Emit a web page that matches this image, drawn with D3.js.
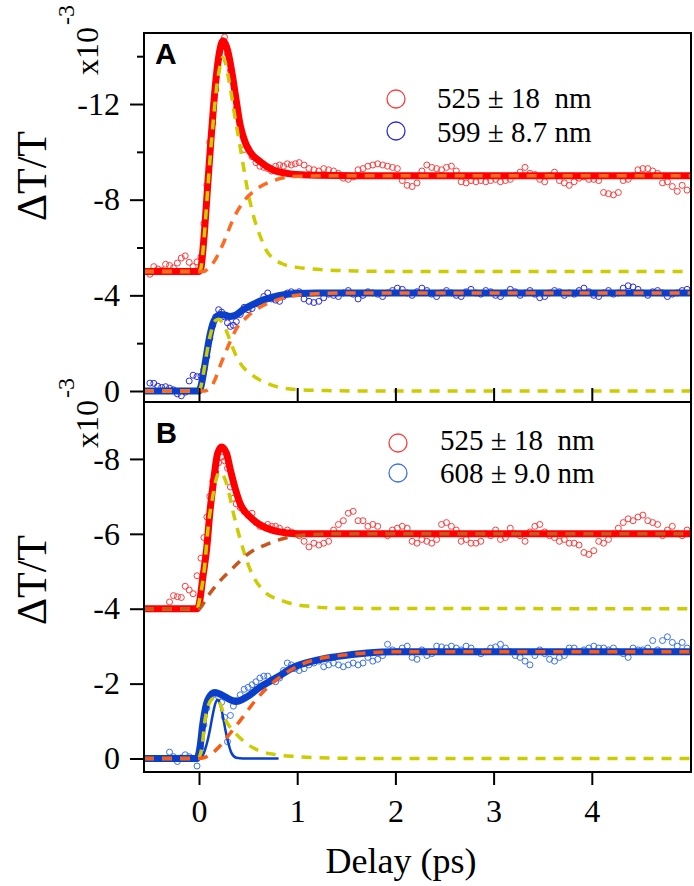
<!DOCTYPE html>
<html><head><meta charset="utf-8">
<script src="https://cdn.jsdelivr.net/npm/d3@7"></script>
<style>body{margin:0;background:#fff}</style></head><body>
<svg id="c" width="694" height="886"></svg>
<script>
// ---------- DATA (units of 1e-3) ----------
const timesA = [-0.50,-0.46,-0.42,-0.38,-0.34,-0.30,-0.26,-0.22,-0.18,-0.14,-0.10,-0.06,-0.02,
0.02,0.05,0.08,0.11,0.14,0.17,0.20,0.23,0.26,0.29,0.32,0.35,0.38,0.42,0.46,0.50,0.54,0.58,0.62,0.66,0.70,0.74,0.78,0.82,0.86,0.90,0.94,0.98,
1.02,1.07,1.12,1.17,1.22,1.27,1.32,1.37,1.42,1.47,1.52,1.57,1.62,1.67,1.72,1.77,1.82,1.87,1.92,1.97,
2.02,2.07,2.12,2.17,2.22,2.27,2.32,2.37,2.42,2.47,2.52,2.57,2.62,2.67,2.72,2.77,2.82,2.87,2.92,2.97,
3.02,3.07,3.12,3.17,3.22,3.27,3.32,3.37,3.42,3.47,3.52,3.57,3.62,3.67,3.72,3.77,3.82,3.87,3.92,3.97,
4.02,4.07,4.12,4.17,4.22,4.27,4.32,4.37,4.42,4.47,4.52,4.57,4.62,4.67,4.72,4.77,4.82,4.87,4.92,4.97];
const timesB = [-0.30,-0.26,-0.22,-0.18,-0.14,-0.10,-0.06,-0.02,
0.02,0.05,0.08,0.11,0.14,0.17,0.20,0.23,0.26,0.29,0.32,0.35,0.38,0.42,0.46,0.50,0.54,0.58,0.62,0.66,0.70,0.74,0.78,0.82,0.86,0.90,0.94,0.98,
1.02,1.07,1.12,1.17,1.22,1.27,1.32,1.37,1.42,1.47,1.52,1.57,1.62,1.67,1.72,1.77,1.82,1.87,1.92,1.97,
2.02,2.07,2.12,2.17,2.22,2.27,2.32,2.37,2.42,2.47,2.52,2.57,2.62,2.67,2.72,2.77,2.82,2.87,2.92,2.97,
3.02,3.07,3.12,3.17,3.22,3.27,3.32,3.37,3.42,3.47,3.52,3.57,3.62,3.67,3.72,3.77,3.82,3.87,3.92,3.97,
4.02,4.07,4.12,4.17,4.22,4.27,4.32,4.37,4.42,4.47,4.52,4.57,4.62,4.67,4.72,4.77,4.82,4.87,4.92,4.97];

const redA = [-4.88,-5.20,-5.10,-5.05,-5.30,-5.25,-5.15,-5.35,-5.56,-5.65,-5.38,-5.20,-5.40,
-5.6,-7.0,-8.6,-10.4,-11.2,-12.6,-13.9,-14.4,-14.8,-14.1,-13.4,-12.4,-11.8,-10.9,-10.1,-10.15,-9.8,-9.55,-9.4,-9.35,-9.3,-9.2,-9.4,-9.45,-9.4,-9.5,-9.45,-9.5,
-9.55,-9.45,-9.3,-9.25,-9.2,-9.3,-9.25,-9.2,-9.1,-8.9,-8.85,-8.95,-9.25,-9.3,-9.4,-9.45,-9.5,-9.45,-9.4,-9.35,
-9.3,-8.8,-8.6,-8.55,-8.7,-9.2,-9.45,-9.35,-9.3,-9.25,-9.35,-9.4,-9.2,-8.75,-8.7,-8.8,-8.75,-8.8,-8.75,-8.8,
-8.85,-8.75,-8.8,-8.85,-9.0,-9.15,-9.35,-9.1,-9.05,-8.85,-8.75,-9.0,-9.15,-8.8,-8.7,-8.6,-8.75,-8.9,-8.95,-8.85,
-8.85,-8.8,-8.3,-8.25,-8.2,-8.3,-8.8,-8.85,-9.0,-9.25,-9.3,-9.3,-9.2,-9.1,-8.7,-8.75,-8.55,-8.35,-8.6,-8.4];
const blueA = [-0.33,-0.32,-0.20,-0.15,-0.18,-0.12,-0.05,0.12,0.20,0.05,-0.42,-0.66,-0.60,
-0.62,-0.9,-1.45,-2.2,-2.75,-3.1,-3.4,-3.3,-3.1,-2.85,-2.7,-2.75,-2.9,-3.2,-3.5,-3.4,-3.45,-3.65,-3.75,-3.95,-4.1,-3.85,-3.8,-3.75,-3.95,-4.1,-4.15,-4.1,
-4.15,-3.85,-3.75,-3.7,-3.75,-3.9,-4.05,-4.0,-3.95,-4.1,-4.2,-4.05,-3.85,-4.0,-4.15,-4.1,-4.05,-3.95,-4.1,-4.2,
-4.3,-4.25,-4.1,-4.0,-4.15,-4.3,-4.2,-4.05,-3.95,-4.1,-4.2,-4.1,-4.0,-3.95,-4.15,-4.25,-4.1,-4.05,-4.2,-4.15,
-4.0,-3.95,-4.1,-4.25,-4.15,-4.0,-4.1,-4.2,-4.05,-3.9,-3.95,-4.1,-4.2,-4.15,-4.0,-4.1,-4.05,-4.2,-4.3,-4.15,
-4.0,-3.95,-4.1,-4.2,-4.05,-4.1,-4.3,-4.4,-4.35,-4.25,-4.1,-4.0,-4.15,-4.2,-4.1,-3.95,-4.05,-4.1,-4.2,-4.25];
const redB = [-4.18,-4.35,-4.32,-4.30,-4.60,-4.50,-4.40,-4.88,
-5.35,-5.9,-6.45,-7.0,-7.4,-7.65,-7.9,-8.05,-7.95,-7.75,-7.25,-6.95,-6.8,-6.7,-6.6,-6.5,-6.55,-6.3,-6.2,-6.2,-6.25,-6.2,-6.2,-6.15,-6.05,-6.1,-6.05,-6.0,
-5.95,-5.8,-5.65,-5.75,-5.7,-5.75,-5.8,-6.1,-6.25,-6.35,-6.55,-6.6,-6.35,-6.35,-6.2,-6.25,-6.2,-6.0,-5.95,-6.1,
-6.15,-6.2,-6.15,-5.8,-5.75,-5.85,-5.8,-5.75,-5.85,-6.25,-6.3,-6.2,-6.1,-5.8,-5.85,-5.75,-5.75,-5.8,-6.0,-5.95,
-6.1,-5.85,-5.9,-6.15,-6.0,-5.95,-5.8,-6.05,-6.2,-6.25,-6.05,-5.95,-5.9,-5.8,-5.85,-5.75,-5.75,-5.7,-5.5,-5.45,
-5.55,-5.8,-5.75,-5.85,-6.0,-6.15,-6.3,-6.4,-6.35,-6.45,-6.5,-6.35,-6.3,-6.25,-5.95,-6.1,-6.2,-6.0,-5.95,-6.1];
const blueB = [-0.17,-0.05,0.08,-0.02,-0.10,-0.05,0.00,0.20,
-0.3,-0.9,-1.35,-1.6,-1.7,-1.75,-1.65,-1.5,-1.1,-0.45,-1.15,-1.4,-1.55,-1.7,-1.85,-1.9,-1.97,-2.05,-2.15,-2.2,-2.2,-2.1,-2.05,-2.15,-2.35,-2.55,-2.5,-2.4,
-2.35,-2.4,-2.5,-2.55,-2.6,-2.45,-2.5,-2.55,-2.5,-2.45,-2.5,-2.55,-2.5,-2.55,-2.7,-2.6,-2.65,-2.75,-3.05,-2.9,
-2.85,-2.95,-3.0,-2.7,-2.65,-2.9,-2.75,-2.8,-3.0,-2.98,-2.95,-3.0,-2.95,-2.9,-3.0,-2.95,-2.85,-2.8,-2.85,-2.95,
-2.98,-3.05,-2.95,-2.85,-2.75,-2.7,-2.6,-2.5,-2.75,-2.9,-2.8,-2.65,-2.6,-2.7,-2.75,-2.95,-2.95,-2.85,-2.9,-2.95,
-3.0,-2.95,-2.95,-2.9,-2.95,-2.85,-2.8,-2.7,-2.95,-2.9,-2.9,-2.95,-3.15,-2.9,-3.15,-3.25,-3.1,-3.0,-3.1,-2.95];

// fit curves [t, value]
const fitRedA = [[-0.56,-5.0],[0.0,-5.0],[0.02,-5.15],[0.04,-5.9],[0.06,-6.9],[0.09,-8.7],[0.12,-10.4],[0.15,-12.0],[0.18,-13.3],[0.21,-14.2],[0.245,-14.65],[0.28,-14.4],[0.31,-13.9],[0.34,-13.2],[0.37,-12.4],[0.42,-11.1],[0.47,-10.4],[0.52,-10.0],[0.62,-9.6],[0.75,-9.25],[0.93,-9.08],[1.2,-9.02],[1.6,-9.0],[5.01,-9.0]];
const fitYelA = [[-0.56,-5.0],[0.0,-5.0],[0.02,-5.15],[0.04,-5.85],[0.06,-6.8],[0.09,-8.5],[0.12,-10.1],[0.15,-11.5],[0.18,-12.7],[0.21,-13.5],[0.24,-13.95],[0.27,-13.7],[0.30,-13.1],[0.33,-12.4],[0.36,-11.6],[0.39,-10.9],[0.44,-9.7],[0.49,-8.5],[0.57,-7.1],[0.63,-6.4],[0.69,-5.85],[0.77,-5.5],[0.86,-5.3],[1.0,-5.17],[1.1,-5.12],[1.3,-5.06],[1.6,-5.02],[2.0,-5.0],[5.01,-5.0]];
const fitOrgA = [[-0.56,-5.0],[0.05,-5.0],[0.10,-5.15],[0.16,-5.45],[0.25,-6.2],[0.35,-7.2],[0.45,-7.9],[0.59,-8.45],[0.76,-8.8],[0.96,-8.97],[1.3,-9.0],[5.01,-9.0]];
const fitBlueA = [[-0.56,0],[0.0,0],[0.02,-0.2],[0.05,-0.85],[0.08,-1.6],[0.11,-2.3],[0.14,-2.8],[0.18,-3.1],[0.22,-3.2],[0.26,-3.18],[0.31,-3.12],[0.36,-3.15],[0.45,-3.4],[0.55,-3.62],[0.65,-3.8],[0.75,-3.93],[0.85,-4.02],[1.0,-4.08],[1.2,-4.1],[5.01,-4.1]];
const fitYelA2 = [[-0.56,0],[0.0,0],[0.02,-0.2],[0.05,-0.85],[0.08,-1.6],[0.11,-2.25],[0.14,-2.7],[0.17,-2.95],[0.20,-3.0],[0.23,-2.9],[0.26,-2.7],[0.29,-2.4],[0.33,-1.95],[0.38,-1.45],[0.45,-1.0],[0.53,-0.7],[0.62,-0.46],[0.72,-0.28],[0.82,-0.15],[1.0,-0.06],[1.3,-0.02],[1.6,0],[5.01,0]];
const fitOrgA2 = [[-0.56,0],[0.05,0],[0.11,-0.1],[0.16,-0.45],[0.21,-1.0],[0.30,-1.9],[0.38,-2.6],[0.49,-3.1],[0.62,-3.5],[0.79,-3.8],[0.96,-3.98],[1.2,-4.07],[1.5,-4.1],[5.01,-4.1]];
const fitRedB = [[-0.56,-4.0],[-0.02,-4.0],[0.0,-4.1],[0.04,-4.85],[0.08,-5.65],[0.11,-6.55],[0.15,-7.45],[0.19,-8.15],[0.23,-8.32],[0.28,-8.15],[0.32,-7.7],[0.37,-7.2],[0.42,-6.8],[0.52,-6.45],[0.65,-6.2],[0.82,-6.05],[1.0,-6.0],[5.01,-6.0]];
const fitYelB = [[-0.56,-4.0],[-0.02,-4.0],[0.01,-4.3],[0.06,-5.2],[0.09,-6.1],[0.14,-7.0],[0.18,-7.5],[0.21,-7.65],[0.25,-7.55],[0.29,-7.25],[0.35,-6.55],[0.42,-5.85],[0.52,-5.05],[0.65,-4.5],[0.86,-4.2],[1.1,-4.07],[1.5,-4.01],[5.01,-4.0]];
const fitOrgB = [[-0.56,-4.0],[0.0,-4.0],[0.08,-4.3],[0.20,-4.7],[0.35,-5.1],[0.52,-5.5],[0.69,-5.72],[0.90,-5.9],[1.1,-5.97],[1.4,-6.0],[5.01,-6.0]];
const fitBlueB = [[-0.56,0],[-0.02,0],[0.01,-0.3],[0.04,-0.95],[0.09,-1.57],[0.16,-1.76],[0.23,-1.7],[0.32,-1.57],[0.38,-1.52],[0.49,-1.65],[0.62,-1.9],[0.79,-2.16],[0.96,-2.43],[1.16,-2.6],[1.4,-2.72],[1.71,-2.82],[2.0,-2.85],[5.01,-2.85]];
const fitGaussB = [[-0.50,0],[0.0,0],[0.05,-0.15],[0.08,-0.4],[0.11,-0.75],[0.14,-1.17],[0.17,-1.5],[0.19,-1.57],[0.21,-1.5],[0.24,-1.17],[0.27,-0.75],[0.30,-0.4],[0.33,-0.15],[0.38,-0.02],[0.45,0],[0.80,0]];
const fitYelB2 = [[-0.56,0],[-0.01,0],[0.03,-0.3],[0.06,-1.0],[0.10,-1.45],[0.14,-1.6],[0.17,-1.62],[0.20,-1.55],[0.23,-1.36],[0.28,-0.98],[0.33,-0.8],[0.38,-0.65],[0.49,-0.39],[0.62,-0.2],[0.79,-0.1],[1.0,-0.05],[1.4,-0.01],[1.8,0],[5.01,0]];
const fitOrgB2 = [[-0.56,0],[0.0,0],[0.08,-0.05],[0.14,-0.15],[0.20,-0.3],[0.28,-0.55],[0.38,-0.88],[0.45,-1.12],[0.59,-1.6],[0.70,-1.9],[0.86,-2.24],[1.03,-2.5],[1.23,-2.67],[1.5,-2.77],[1.71,-2.82],[2.0,-2.85],[5.01,-2.85]];

const xTicks = [0,1,2,3,4];
const yTicksA = [0,-4,-8,-12];
const yMinorA = [-2,-6,-10,-14];
const yTicksB = [0,-2,-4,-6,-8];
const legendA = ["525 \u00b1 18  nm","599 \u00b1 8.7 nm"];
const legendB = ["525 \u00b1 18  nm","608 \u00b1 9.0 nm"];

// ---------- LAYOUT ----------
const svg = d3.select("#c");
const L = 144, R = 691, topA = 33, mid = 402, botB = 772;
const serif = "'Liberation Serif','Times New Roman',serif";
const x = d3.scaleLinear().domain([-0.56, 5.01]).range([L, R]);
const yA = d3.scaleLinear().domain([0.46, -14.97]).range([mid, topA]);
const yB = d3.scaleLinear().domain([0.36, -9.52]).range([botB, mid]);

const C = {red:"#ff0000", redPt:"#ff3b3b", blue:"#0b3fc9", bluePtA:"#2b2be6", bluePtB:"#3d70f2",
  yel:"#cccc00", orgA:"#ff6a1e", orgB1:"#c8561e", orgB2:"#ff5a12"};

const defs = svg.append("defs");
defs.append("clipPath").attr("id","clipA").append("rect").attr("x",L).attr("y",topA).attr("width",R-L).attr("height",mid-topA);
defs.append("clipPath").attr("id","clipB").append("rect").attr("x",L).attr("y",mid).attr("width",R-L).attr("height",botB-mid);

function panel(clip, y, pts, fits){
  const g = svg.append("g").attr("clip-path",`url(#${clip})`);
  pts.forEach(p => {
    g.append("g").selectAll("circle").data(p.t.map((t,i)=>[t,p.v[i]])).join("circle")
      .attr("cx",d=>x(d[0])).attr("cy",d=>y(d[1])).attr("r",3)
      .attr("fill","none").attr("stroke",p.c).attr("stroke-width",1);
  });
  fits.forEach(f => {
    const line = d3.line().x(d=>x(d[0])).y(d=>y(d[1])).curve(d3.curveMonotoneX);
    g.append("path").attr("d",line(f.d)).attr("fill","none").attr("stroke",f.c)
      .attr("stroke-width",f.w).attr("stroke-dasharray",f.dash||null)
      .attr("stroke-linejoin","round").attr("stroke-linecap",f.dash?"butt":"round");
  });
}

panel("clipA", yA,
  [{t:timesA, v:redA, c:C.redPt},{t:timesA, v:blueA, c:C.bluePtA}],
  [{d:fitRedA,c:C.red,w:7},{d:fitBlueA,c:C.blue,w:7},
   {d:fitYelA,c:C.yel,w:3.5,dash:"10,8"},{d:fitYelA2,c:C.yel,w:3.5,dash:"10,8"},
   {d:fitOrgA,c:C.orgA,w:3.5,dash:"10,8"},{d:fitOrgA2,c:C.orgA,w:3.5,dash:"10,8"}]);
panel("clipB", yB,
  [{t:timesB, v:redB, c:C.redPt},{t:timesB, v:blueB, c:C.bluePtB}],
  [{d:fitRedB,c:C.red,w:7},{d:fitBlueB,c:C.blue,w:7},{d:fitGaussB,c:C.blue,w:2.5},
   {d:fitYelB,c:C.yel,w:3.5,dash:"10,8"},{d:fitYelB2,c:C.yel,w:3.5,dash:"10,8"},
   {d:fitOrgB,c:C.orgB1,w:3.5,dash:"10,8"},{d:fitOrgB2,c:C.orgB2,w:3.5,dash:"10,8"}]);

// ---------- AXES ----------
function styleAxis(g, fs){
  g.select(".domain").remove();
  g.selectAll("line").attr("stroke","#000").attr("stroke-width",2);
  g.selectAll("text").attr("font-family",serif).attr("font-size",fs).attr("fill","#000");
}
const fmt = d => String(d);
svg.append("g").attr("transform",`translate(${L},0)`)
  .call(d3.axisLeft(yA).tickValues(yTicksA).tickFormat(fmt).tickSize(14).tickPadding(10))
  .call(g=>styleAxis(g,32));
svg.append("g").attr("transform",`translate(${L},0)`)
  .call(d3.axisLeft(yA).tickValues(yMinorA).tickFormat("").tickSize(7))
  .call(g=>styleAxis(g,32));
svg.append("g").attr("transform",`translate(${L},0)`)
  .call(d3.axisLeft(yB).tickValues(yTicksB).tickFormat(fmt).tickSize(14).tickPadding(10))
  .call(g=>styleAxis(g,32));
svg.append("g").attr("transform",`translate(0,${mid})`)
  .call(d3.axisTop(x).tickValues(xTicks).tickFormat("").tickSize(14))
  .call(g=>styleAxis(g,32));
svg.append("g").attr("transform",`translate(0,${botB})`)
  .call(d3.axisBottom(x).tickValues(xTicks).tickFormat(fmt).tickSize(13).tickPadding(14))
  .call(g=>styleAxis(g,32));

// frames
svg.append("rect").attr("x",L).attr("y",topA).attr("width",R-L).attr("height",mid-topA)
  .attr("fill","none").attr("stroke","#000").attr("stroke-width",2);
svg.append("rect").attr("x",L).attr("y",mid).attr("width",R-L).attr("height",botB-mid)
  .attr("fill","none").attr("stroke","#000").attr("stroke-width",2);

// panel letters
svg.append("text").attr("x",155).attr("y",64).text("A")
  .attr("font-family","'Liberation Sans',Arial,sans-serif").attr("font-weight","bold").attr("font-size",30);
svg.append("text").attr("x",156).attr("y",443).text("B")
  .attr("font-family","'Liberation Sans',Arial,sans-serif").attr("font-weight","bold").attr("font-size",29);

// legends
function legend(items, cx, tx, cys, bases, cols){
  items.forEach((s,i)=>{
    svg.append("circle").attr("cx",cx).attr("cy",cys[i]).attr("r",9)
      .attr("fill","none").attr("stroke",cols[i]).attr("stroke-width",1.3);
    svg.append("text").attr("x",tx).attr("y",bases[i]).text(s)
      .attr("font-family",serif).attr("font-size",29).style("white-space","pre");
  });
}
legend(legendA, 396, 437, [99,131], [108,142], [C.redPt, C.bluePtA]);
legend(legendB, 398, 440, [443,473], [450,483], [C.redPt, C.bluePtB]);

// y titles
function ytitle(cy){
  svg.append("text").attr("transform",`translate(46,${cy}) rotate(-90)`)
    .attr("text-anchor","middle").attr("font-family",serif).attr("font-size",42).text("\u0394T/T");
}
ytitle(176); ytitle(580);
// multipliers
function mult(by){
  const t = svg.append("text").attr("transform",`translate(98,${by}) rotate(-90)`)
    .attr("font-family",serif).attr("font-size",32);
  t.append("tspan").text("x10");
  t.append("tspan").attr("dy",-24).attr("dx",2).attr("font-size",24).text("-3");
}
mult(75); mult(448);

// x title
svg.append("text").attr("x",401).attr("y",873).attr("text-anchor","middle")
  .attr("font-family",serif).attr("font-size",36).text("Delay (ps)");
</script></body></html>
